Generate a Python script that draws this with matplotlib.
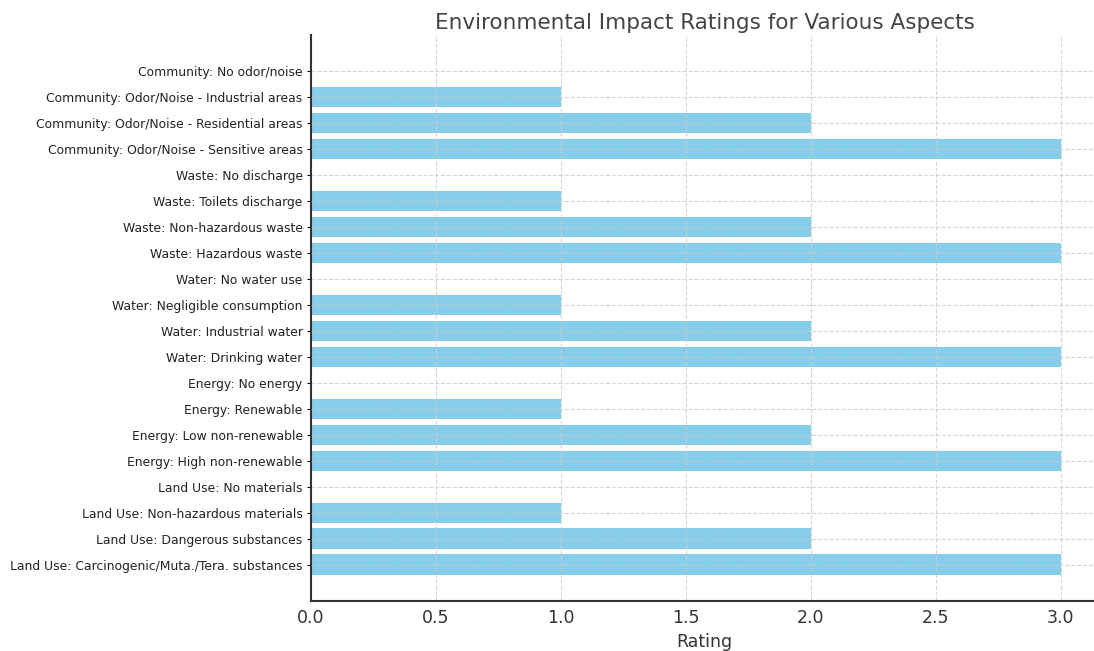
import matplotlib
matplotlib.use('Agg')
import matplotlib.pyplot as plt

# Categories listed bottom to top, as plotted by barh
aspects = [
    "Land Use: Carcinogenic/Muta./Tera. substances",
    "Land Use: Dangerous substances",
    "Land Use: Non-hazardous materials",
    "Land Use: No materials",
    "Energy: High non-renewable",
    "Energy: Low non-renewable",
    "Energy: Renewable",
    "Energy: No energy",
    "Water: Drinking water",
    "Water: Industrial water",
    "Water: Negligible consumption",
    "Water: No water use",
    "Waste: Hazardous waste",
    "Waste: Non-hazardous waste",
    "Waste: Toilets discharge",
    "Waste: No discharge",
    "Community: Odor/Noise - Sensitive areas",
    "Community: Odor/Noise - Residential areas",
    "Community: Odor/Noise - Industrial areas",
    "Community: No odor/noise",
]
ratings = [3, 2, 1, 0, 3, 2, 1, 0, 3, 2, 1, 0, 3, 2, 1, 0, 3, 2, 1, 0]

fig = plt.figure(figsize=(10.94, 6.51), dpi=100)
ax = fig.add_axes([0.2843, 0.0768, 0.7194, 0.8695])

ax.barh(aspects, ratings, color='skyblue', height=0.8)

ax.set_title("Environmental Impact Ratings for Various Aspects", fontsize=15.5, color='#444444', pad=4)
ax.set_xlabel("Rating", fontsize=12.5, color='#333333')
ax.tick_params(axis='x', labelsize=12.5, labelcolor='#333333', length=0, pad=6)
ax.tick_params(axis='y', labelsize=8.9, labelcolor='#222222', length=3, pad=3)

ax.grid(True, linestyle='--', color='#cccccc', linewidth=0.8, alpha=0.8)
ax.spines['top'].set_visible(False)
ax.spines['right'].set_visible(False)
ax.spines['left'].set_linewidth(1.5)
ax.spines['bottom'].set_linewidth(1.5)
ax.spines['left'].set_color('#333333')
ax.spines['bottom'].set_color('#333333')

plt.savefig("out.png", dpi=100)
plt.close()
